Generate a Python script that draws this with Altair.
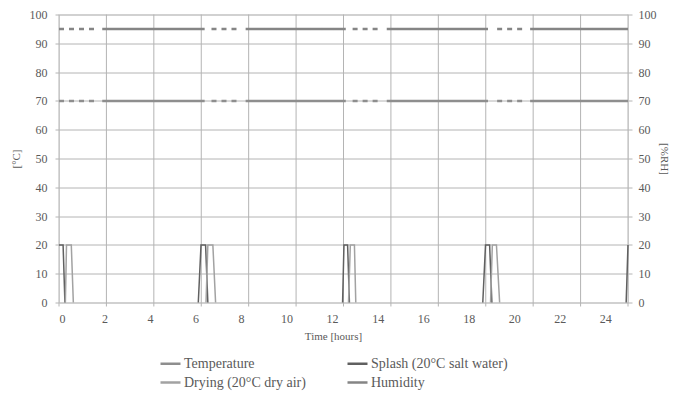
import altair as alt
import pandas as pd

# ---------------- data ----------------
# legend order (filled column by column: Temperature/Drying, then Splash/Humidity)
series_names = ["Temperature", "Drying (20°C dry air)", "Splash (20°C salt water)", "Humidity"]
series_colors = ["#8e8e8e", "#a2a2a2", "#606060", "#858585"]

temp_value = 70
hum_value = 95

# controlled phases (solid) and transition phases (dashed), hours
solid_starts = [1.9, 8.2, 14.4, 20.7]
solid_ends = [6.4, 12.6, 18.85, 25.0]
dash_starts = [0.0, 6.7, 12.9, 19.25]
dash_ends = [1.75, 8.0, 14.15, 20.45]

# splash pulses (time in hours, value in degC)
splash_t = [[0.0, 0.18, 0.26], [6.12, 6.24, 6.44, 6.54], [12.46, 12.52, 12.68, 12.76],
            [18.62, 18.74, 18.92, 19.02], [24.92, 25.0]]
splash_v = [[20, 20, 0], [0, 20, 20, 0], [0, 20, 20, 0], [0, 20, 20, 0], [0, 20]]

# drying pulses
drying_t = [[0.28, 0.33, 0.54, 0.63], [6.46, 6.54, 6.76, 6.88], [12.72, 12.8, 12.98, 13.04],
            [18.96, 19.04, 19.22, 19.36]]
drying_v = [[0, 20, 20, 0], [0, 20, 20, 0], [0, 20, 20, 0], [0, 20, 20, 0]]

x_tick_values = [0, 2, 4, 6, 8, 10, 12, 14, 16, 18, 20, 22, 24]
y_tick_values = [0, 10, 20, 30, 40, 50, 60, 70, 80, 90, 100]
# vertical grid lines of the original drawing (12 equal divisions of 25 h)
grid_x = [0, 2.0833, 4.1667, 6.25, 8.3333, 10.4167, 12.5, 14.5833, 16.6667,
          18.75, 20.8333, 22.9167, 25.0]

# ---------------- tables ----------------
main_rows = []
for name, val in [("Temperature", temp_value), ("Humidity", hum_value)]:
    for i, (s, e) in enumerate(zip(solid_starts, solid_ends)):
        for t in (s, e):
            main_rows.append(dict(series=name, seg=f"{name}-s{i}", style="solid", t=t, v=val))
    for i, (s, e) in enumerate(zip(dash_starts, dash_ends)):
        for t in (s, e):
            main_rows.append(dict(series=name, seg=f"{name}-d{i}", style="dashed", t=t, v=val))
main_df = pd.DataFrame(main_rows)

pulse_rows = []
for i, (ts, vs) in enumerate(zip(splash_t, splash_v)):
    for k, (t, v) in enumerate(zip(ts, vs)):
        pulse_rows.append(dict(series="Splash (20°C salt water)", seg=f"sp{i}", order=k, t=t, v=v))
for i, (ts, vs) in enumerate(zip(drying_t, drying_v)):
    for k, (t, v) in enumerate(zip(ts, vs)):
        pulse_rows.append(dict(series="Drying (20°C dry air)", seg=f"dr{i}", order=k, t=t, v=v))
pulse_df = pd.DataFrame(pulse_rows)

grid_df = pd.DataFrame({"t": grid_x})

# ---------------- styling ----------------
FONT = "Liberation Sans Narrow"
TXT = "#5a5a5a"
GRID = "#b4b4b4"

xscale = alt.Scale(domain=[0, 25], nice=False, zero=False)
yscale = alt.Scale(domain=[0, 100], nice=False)

xaxis = alt.Axis(values=x_tick_values, title="Time [hours]", grid=False, ticks=False, domain=False,
                 labelPadding=11, labelFont=FONT, labelFontSize=12, labelColor=TXT,
                 titleFont=FONT, titleFontSize=11, titleFontWeight="normal", titleColor=TXT,
                 titlePadding=6, titleX=274)

yaxis_left = alt.Axis(values=y_tick_values, title="[°C]", orient="left", grid=True, gridColor=GRID,
                      ticks=True, tickSize=4, tickColor=GRID, domain=False,
                      labelPadding=8, labelFont=FONT, labelFontSize=12, labelColor=TXT,
                      titleFont=FONT, titleFontSize=11, titleFontWeight="normal", titleColor=TXT,
                      titlePadding=8)
yaxis_right = alt.Axis(values=y_tick_values, title="[%RH]", orient="right", grid=False,
                       ticks=True, tickSize=4, tickColor=GRID, domain=False,
                       labelPadding=6, labelFont=FONT, labelFontSize=12, labelColor=TXT,
                       titleFont=FONT, titleFontSize=11, titleFontWeight="normal", titleColor=TXT,
                       titlePadding=2)

legend = alt.Legend(orient="none", legendX=100, legendY=337.5, columns=2, title=None,
                    symbolType="stroke", symbolSize=400, symbolStrokeWidth=2.5,
                    labelFont=FONT, labelFontSize=14, labelColor=TXT, labelOffset=2,
                    columnPadding=36, rowPadding=0, padding=0, labelLimit=300)
color = alt.Color("series:N", scale=alt.Scale(domain=series_names, range=series_colors), legend=legend)

grid_layer = alt.Chart(grid_df).mark_rule(color=GRID, strokeWidth=1).encode(
    x=alt.X("t:Q", scale=xscale, axis=xaxis),
    y=alt.value(0),
    y2=alt.value(292),
)

main_layer = alt.Chart(main_df).mark_line(strokeWidth=2.5).encode(
    x=alt.X("t:Q", scale=xscale, axis=xaxis),
    y=alt.Y("v:Q", scale=yscale, axis=yaxis_left),
    color=color,
    detail="seg:N",
    strokeDash=alt.StrokeDash("style:N", scale=alt.Scale(domain=["solid", "dashed"], range=[[1, 0], [5, 5]]),
                              legend=None),
)

pulse_layer = alt.Chart(pulse_df).mark_line(strokeWidth=1.5).encode(
    x=alt.X("t:Q", scale=xscale, axis=xaxis),
    y=alt.Y("v:Q", scale=yscale, axis=yaxis_right),
    color=color,
    detail="seg:N",
    order="order:Q",
)

chart = alt.layer(grid_layer, main_layer, pulse_layer).resolve_axis(y="independent").properties(
    width=569, height=288, autosize="none",
    padding={"left": 51, "top": 6.5, "right": 44, "bottom": 88},
).configure_view(stroke=GRID, strokeWidth=1).configure(background="white")

chart.save("out.html", embed_options={"renderer": "svg", "actions": False})
